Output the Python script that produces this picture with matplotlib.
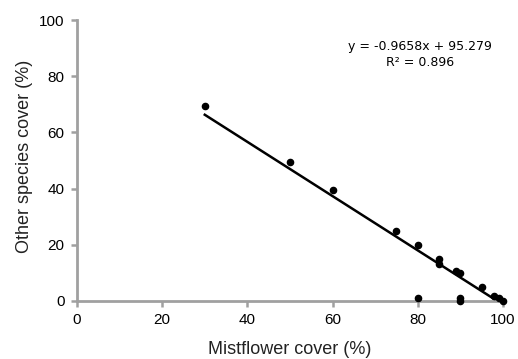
import matplotlib.pyplot as plt
import numpy as np

plt.rcParams['font.family'] = ['Liberation Sans', 'DejaVu Sans']

# Mistflower cover vs other species cover (%)
mistflower = [30, 50, 60, 75, 80, 80, 85, 85, 89, 90, 90, 90, 95, 98, 99, 100]
other_species = [69.5, 49.5, 39.5, 25, 20, 1, 14.8, 13, 10.8, 9.8, 1, 0, 5, 1.8, 1, 0]

# linear trendline reported on the chart
slope = -0.9658
intercept = 95.279
r_squared = 0.896

axis_grey = '#a0a0a0'

fig = plt.figure(figsize=(5.18, 3.59), dpi=100)
ax = fig.add_axes([0.1486, 0.1616, 0.8224, 0.7824])

ax.scatter(mistflower, other_species, s=20, color='black', zorder=3, clip_on=False)

x_fit = np.array([min(mistflower), max(mistflower)])
ax.plot(x_fit, slope * x_fit + intercept, color='black', linewidth=1.8, zorder=2)

ax.set_xlim(0, 100)
ax.set_ylim(0, 100)
ax.set_xticks(np.arange(0, 101, 20))
ax.set_yticks(np.arange(0, 101, 20))

for side in ['top', 'right']:
    ax.spines[side].set_visible(False)
for side in ['left', 'bottom']:
    ax.spines[side].set_color(axis_grey)
    ax.spines[side].set_linewidth(2)
ax.tick_params(colors=axis_grey, labelcolor='black', labelsize=11, width=1.8, length=4, pad=5)

ax.set_xlabel('Mistflower cover (%)', fontsize=13, color='#222222')
ax.set_ylabel('Other species cover (%)', fontsize=13, color='#222222')
ax.xaxis.set_label_coords(0.5, -0.142)
ax.yaxis.set_label_coords(-0.103, 0.516)

ax.text(80.5, 87.9, f'y = {slope}x + {intercept}\nR² = {r_squared}', fontsize=9,
        ha='center', va='center', linespacing=1.3, family='DejaVu Sans')

fig.savefig('out.png', dpi=100)
